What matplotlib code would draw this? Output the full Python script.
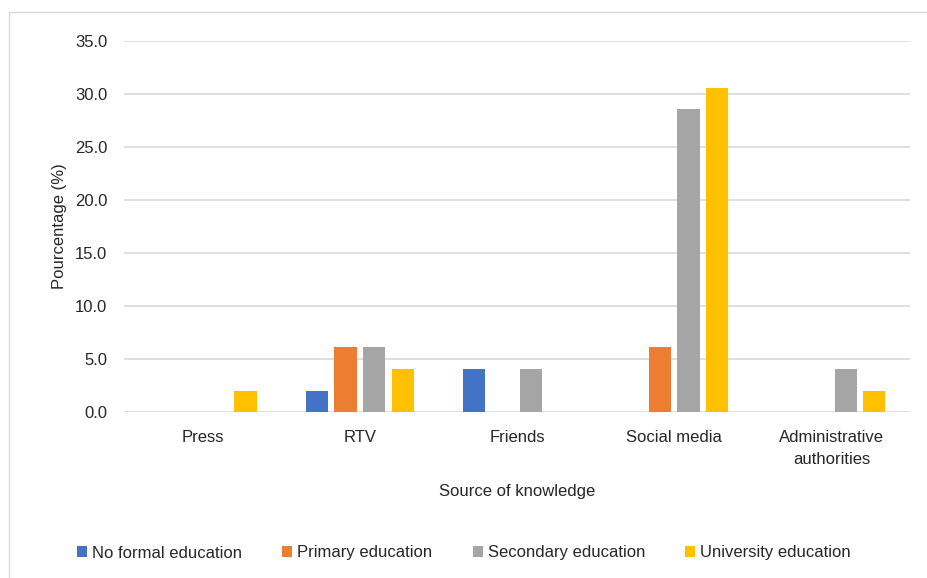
import numpy as np
import matplotlib
matplotlib.use('Agg')
import matplotlib.pyplot as plt
from matplotlib.patches import Rectangle

plt.rcParams['font.family'] = ['Liberation Sans', 'DejaVu Sans']

categories = ['Press', 'RTV', 'Friends', 'Social media', 'Administrative\nauthorities']
series_names = ['No formal education', 'Primary education',
                'Secondary education', 'University education']
no_formal = [0.0, 2.0, 4.1, 0.0, 0.0]
primary = [0.0, 6.1, 0.0, 6.1, 0.0]
secondary = [0.0, 6.1, 4.1, 28.6, 4.1]
university = [2.0, 4.1, 0.0, 30.6, 2.0]
colors = ['#4472C4', '#ED7D31', '#A5A5A5', '#FFC000']
yticks = [0, 5, 10, 15, 20, 25, 30, 35]

fig = plt.figure(figsize=(9.28, 5.78), dpi=100)
fig.patches.append(Rectangle((9/928, -0.01), 1.0, 1 - 12/578 + 0.01,
                             transform=fig.transFigure, fill=False,
                             edgecolor='#d9d9d9', linewidth=1))
ax = fig.add_axes([124/928, 1 - 412/578, 786/928, 371/578])

x = np.arange(len(categories))
step = 0.182
width = 0.142
for i, (vals, name) in enumerate(zip([no_formal, primary, secondary, university], series_names)):
    ax.bar(x + (i - 1.5) * step, vals, width=width, color=colors[i], label=name, zorder=3)

fs = 12
ax.set_xlim(-0.5, len(categories) - 0.5)
ax.set_ylim(0, 35)
ax.set_yticks(yticks)
ax.set_yticklabels(['{:.1f}'.format(v) for v in yticks], fontsize=fs, color='#262626')
ax.set_xticks(x)
ax.set_xticklabels(categories, fontsize=fs, color='#262626', linespacing=1.6)
ax.tick_params(axis='both', length=0)
ax.tick_params(axis='y', pad=12)
ax.tick_params(axis='x', pad=13)
ax.grid(axis='y', color='#d9d9d9', linewidth=1.2, zorder=0)
for s in ax.spines.values():
    s.set_visible(False)

ax.set_xlabel('Source of knowledge', fontsize=fs, color='#262626', labelpad=12)
ax.set_ylabel('Pourcentage (%)', fontsize=fs, color='#262626', labelpad=6)

fig.legend(loc='center', bbox_to_anchor=(0.5, 1 - 553/578), ncol=4, frameon=False,
           fontsize=fs, handlelength=0.6, handleheight=0.6, handletextpad=0.3,
           columnspacing=2.4, labelcolor='#262626')

fig.savefig('out.png', dpi=100)
